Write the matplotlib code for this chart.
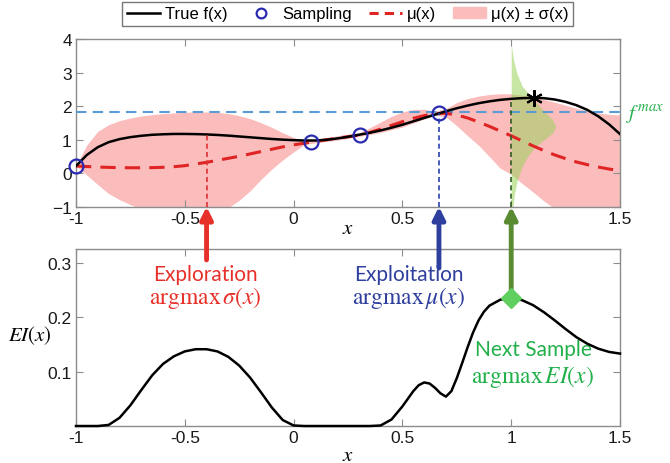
import numpy as np
import matplotlib
matplotlib.use("Agg")
import matplotlib.pyplot as plt
from matplotlib.lines import Line2D
from matplotlib.patches import Patch

plt.rcParams['font.family'] = ['Liberation Sans', 'DejaVu Sans']
plt.rcParams['mathtext.fontset'] = 'stix'

# common x grid (step 0.05 from -1 to 1.5)
xg = np.round(np.arange(-1.0, 1.5001, 0.05), 3)

f_true = [0.22, 0.55, 0.78, 0.93, 1.02, 1.08, 1.12, 1.15, 1.165, 1.175,
          1.175, 1.17, 1.16, 1.145, 1.125, 1.10, 1.075, 1.05, 1.025, 1.005,
          0.99, 0.98, 0.98, 1.00, 1.04, 1.09, 1.15, 1.21, 1.28, 1.36,
          1.45, 1.55, 1.65, 1.75, 1.85, 1.94, 2.02, 2.09, 2.145, 2.19,
          2.22, 2.24, 2.25, 2.24, 2.20, 2.13, 2.03, 1.89, 1.70, 1.46, 1.17]

mu = [0.22, 0.205, 0.19, 0.18, 0.172, 0.168, 0.168, 0.172, 0.182, 0.20,
      0.23, 0.28, 0.33, 0.39, 0.45, 0.51, 0.58, 0.65, 0.72, 0.79,
      0.85, 0.90, 0.95, 1.00, 1.05, 1.09, 1.14, 1.22, 1.32, 1.43,
      1.54, 1.64, 1.72, 1.78, 1.79, 1.74, 1.65, 1.53, 1.40, 1.26,
      1.12, 0.97, 0.82, 0.68, 0.55, 0.44, 0.34, 0.26, 0.19, 0.13, 0.08]

band_hi = [0.22, 0.85, 1.25, 1.45, 1.57, 1.65, 1.71, 1.75, 1.78, 1.80,
           1.82, 1.83, 1.83, 1.82, 1.78, 1.72, 1.63, 1.51, 1.37, 1.21,
           1.07, 0.97, 0.99, 1.06, 1.12, 1.17, 1.21, 1.36, 1.53, 1.70,
           1.83, 1.90, 1.91, 1.85, 1.93, 2.11, 2.23, 2.30, 2.35, 2.37,
           2.37, 2.33, 2.27, 2.20, 2.12, 2.03, 1.94, 1.86, 1.80, 1.76, 1.74]

band_lo = [0.22, -0.05, -0.33, -0.60, -0.78, -0.93, -1.05, -1.15, -1.22, -1.27,
           -1.30, -1.30, -1.27, -1.18, -1.02, -0.80, -0.52, -0.18, 0.13, 0.40,
           0.64, 0.86, 0.91, 0.95, 0.99, 1.04, 1.10, 1.16, 1.22, 1.30,
           1.38, 1.50, 1.62, 1.74, 1.68, 1.42, 1.12, 0.84, 0.50, 0.15,
           -0.02, -0.30, -0.55, -0.82, -1.05, -1.15, -1.25, -1.25, -1.25, -1.25, -1.25]

# EI read on a finer step around the small bump near x = 0.6
ei_x = [-1.0, -0.95, -0.9, -0.85, -0.8, -0.75, -0.7, -0.65, -0.6, -0.55,
        -0.5, -0.45, -0.4, -0.35, -0.3, -0.25, -0.2, -0.15, -0.1, -0.05,
        0.0, 0.05, 0.1, 0.15, 0.2, 0.25, 0.3, 0.35, 0.4, 0.45,
        0.5, 0.525, 0.55, 0.575, 0.6, 0.625, 0.65, 0.675, 0.7, 0.725,
        0.75, 0.775, 0.8, 0.825, 0.85, 0.875, 0.9, 0.95, 1.0, 1.05, 1.1, 1.15,
        1.2, 1.25, 1.3, 1.35, 1.4, 1.45, 1.5]
ei = [0.0, 0.0, 0.0, 0.002, 0.015, 0.038, 0.066, 0.093, 0.114, 0.128,
      0.137, 0.141, 0.141, 0.137, 0.127, 0.111, 0.089, 0.062, 0.034, 0.011,
      0.001, 0.0, 0.0, 0.0, 0.0, 0.0, 0.0, 0.0, 0.001, 0.012,
      0.036, 0.050, 0.064, 0.075, 0.080, 0.078, 0.070, 0.060, 0.054, 0.064,
      0.088, 0.116, 0.145, 0.172, 0.194, 0.210, 0.221, 0.232, 0.235, 0.231, 0.222, 0.209,
      0.194, 0.178, 0.163, 0.151, 0.142, 0.136, 0.133]

samp_x = [-1.0, 0.078, 0.304, 0.668]
samp_y = [0.22, 0.93, 1.14, 1.79]

f_max = 1.83
best_x, best_y = 1.105, 2.25

# predictive density drawn sideways at the next sample point
next_x = 1.0
dens_y = [-1.0, -0.6, -0.2, 0.2, 0.5, 0.8, 1.0, 1.2, 1.4, 1.6, 1.8, 2.0, 2.3, 2.6, 3.0, 3.4, 3.85]
dens_w = [0.008, 0.015, 0.028, 0.05, 0.075, 0.11, 0.15, 0.19, 0.205, 0.19, 0.16, 0.13, 0.09, 0.05, 0.025, 0.01, 0.0]

explore_x, exploit_x = -0.4, 0.668
ei_best = 0.235

fig = plt.figure(figsize=(6.7, 4.64), dpi=100)
ax1 = fig.add_axes([0.1134, 0.5517, 0.812, 0.362])
ax2 = fig.add_axes([0.1134, 0.0797, 0.812, 0.3815])

pink = '#fbbcbc'
ax1.fill_between(xg, band_lo, band_hi, color=pink, lw=0, zorder=1)
ax1.fill_betweenx(dens_y, next_x, next_x + np.array(dens_w), color='#9ad35a', alpha=0.55, lw=0, zorder=2)
ax1.axhline(f_max, color='#5b9bd5', ls=(0, (5, 3)), lw=1.5, zorder=3)
ax1.plot(xg, f_true, color='k', lw=1.8, zorder=5)
ax1.plot(xg, mu, color='#e02424', lw=2.2, ls=(0, (5, 3)), zorder=4)
ax1.plot(samp_x, samp_y, 'o', mfc='none', mec='#2b2bb0', mew=1.6, ms=10, zorder=6, clip_on=False)
ax1.plot(best_x, best_y, marker=(6, 2, 0), color='k', ms=12, mew=1.5, zorder=7)

# vertical guides to the bottom of the upper axes
ax1.plot([explore_x, explore_x], [-1, np.interp(explore_x, xg, f_true)], color='#e03030', lw=1.2, ls=(0, (3, 2)), zorder=6)
ax1.plot([exploit_x, exploit_x], [-1, samp_y[-1]], color='#2a3fb0', lw=1.2, ls=(0, (3, 2)), zorder=6)
ax1.plot([next_x, next_x], [-1, np.interp(next_x, xg, f_true)], color='#2e5e1e', lw=1.2, ls=(0, (3, 2)), zorder=6)

ax1.set_xlim(-1, 1.5)
ax1.set_ylim(-1, 4)
ax1.set_xticks([-1, -0.5, 0, 0.5, 1, 1.5])
ax1.set_xticklabels(['-1', '-0.5', '0', '0.5', '1', '1.5'])
ax1.set_yticks([-1, 0, 1, 2, 3, 4])
ax1.set_xlabel('$x$', fontsize=15, labelpad=-6)
ax1.text(1.525, f_max - 0.05, '$f^{\\,max}$', color='#22b04b', fontsize=15, va='center', ha='left', clip_on=False)

ax2.plot(ei_x, ei, color='k', lw=1.8, clip_on=False, zorder=4)
ax2.plot(next_x, ei_best, 'D', color='#5fd05f', ms=10, zorder=5)
ax2.set_xlim(-1, 1.5)
ax2.set_ylim(0, 0.325)
ax2.set_xticks([-1, -0.5, 0, 0.5, 1, 1.5])
ax2.set_xticklabels(['-1', '-0.5', '0', '0.5', '1', '1.5'])
ax2.set_yticks([0.1, 0.2, 0.3])
ax2.set_xlabel('$x$', fontsize=15, labelpad=0)
ax2.set_ylabel('$EI(x)$', fontsize=15, rotation=0, labelpad=22)
ax2.yaxis.set_label_coords(-0.085, 0.45)

for ax in (ax1, ax2):
    for s in ax.spines.values():
        s.set_color('#8c8c8c')
        s.set_linewidth(1.0)
    ax.tick_params(direction='in', top=True, right=True, length=5, color='#8c8c8c',
                   labelsize=12.5, labelcolor='#1a1a1a', pad=3)

# arrows from the lower panel up to the upper panel
arrows = [(explore_x, 0.305, '#e8302a'), (exploit_x, 0.29, '#2e3f9e'), (next_x, ei_best, '#5a8a32')]
for ax_x, y0, col in arrows:
    ax2.annotate('', xy=(ax_x, -0.99), xycoords=ax1.transData,
                 xytext=(ax_x, y0), textcoords=ax2.transData,
                 arrowprops=dict(arrowstyle='-|>', color=col, lw=3.5, mutation_scale=18,
                                 shrinkA=0, shrinkB=0),
                 annotation_clip=False, zorder=3)

tfam = ['Lato', 'DejaVu Sans']
ax2.text(-0.405, 0.280, 'Exploration', color='#e8302a', fontsize=15, ha='center', va='center', family=tfam)
ax2.text(-0.405, 0.236, r'$\mathrm{argmax}\,\sigma(x)$', color='#e8302a', fontsize=17, ha='center', va='center')
ax2.text(0.53, 0.280, 'Exploitation', color='#2e3f9e', fontsize=15, ha='center', va='center', family=tfam)
ax2.text(0.53, 0.236, r'$\mathrm{argmax}\,\mu(x)$', color='#2e3f9e', fontsize=17, ha='center', va='center')
ax2.text(1.10, 0.141, 'Next Sample', color='#22b04b', fontsize=15, ha='center', va='center', family=tfam)
ax2.text(1.10, 0.092, r'$\mathrm{argmax}\,EI(x)$', color='#22b04b', fontsize=17, ha='center', va='center')

handles = [Line2D([], [], color='k', lw=1.8),
           Line2D([], [], ls='none', marker='o', mfc='none', mec='#2b2bb0', mew=1.6, ms=7),
           Line2D([], [], color='#e02424', lw=2.2, ls=(0, (3, 2))),
           Patch(color=pink)]
labels = ['True f(x)', 'Sampling', '\u03bc(x)', '\u03bc(x) \u00b1 \u03c3(x)']
leg = fig.legend(handles, labels, ncol=4, loc='center', bbox_to_anchor=(0.519, 0.968),
                 fontsize=12, frameon=True, fancybox=False, borderpad=0.25,
                 handlelength=2.0, handletextpad=0.3, columnspacing=1.0)
leg.get_frame().set_edgecolor('#555555')
leg.get_frame().set_linewidth(1.0)

fig.savefig('out.png', dpi=100)
